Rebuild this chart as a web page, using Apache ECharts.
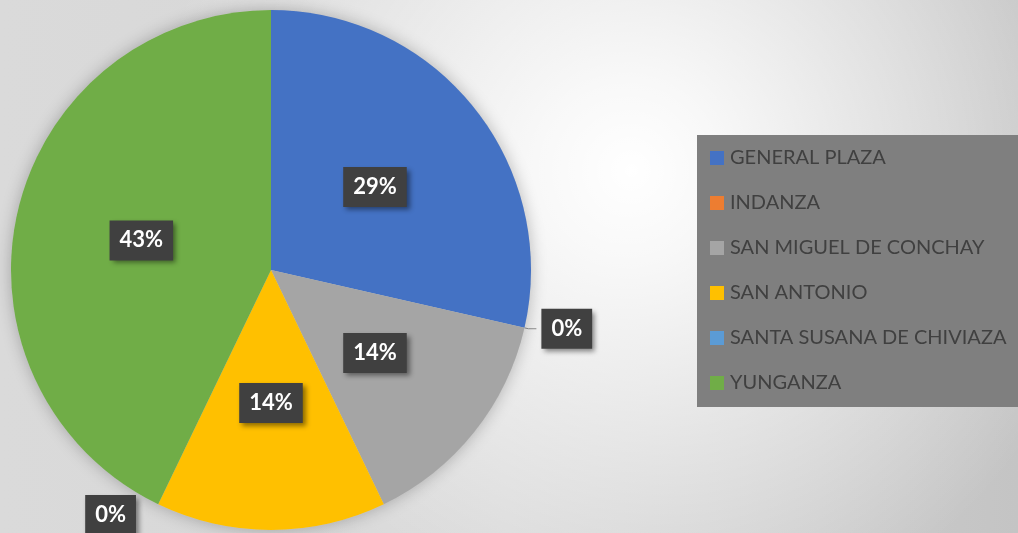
<!DOCTYPE html>
<html>
<head>
<meta charset="utf-8">
<script src="https://cdn.jsdelivr.net/npm/echarts@6/dist/echarts.min.js"></script>
<style>
  html, body { margin: 0; padding: 0; }
  #chart {
    width: 1018px;
    height: 533px;
    background:
      radial-gradient(circle at 62% 32%, rgba(255,255,255,1) 0px, rgba(255,255,255,0.85) 90px, rgba(255,255,255,0) 480px),
      linear-gradient(90deg, #dadada 0%, #d6d6d6 50%, #c4c4c4 100%);
  }
</style>
</head>
<body>
<div id="chart"></div>
<script>
// parishes and number of cases
const parishes = ['GENERAL PLAZA', 'INDANZA', 'SAN MIGUEL DE CONCHAY', 'SAN ANTONIO', 'SANTA SUSANA DE CHIVIAZA', 'YUNGANZA']
const counts = [2, 0, 1, 1, 0, 3]
const colors = ['#4472c4', '#ed7d31', '#a5a5a5', '#ffc000', '#5b9bd5', '#70ad47']

const labelBox = {
  color: '#fff',
  fontFamily: 'Lato',
  fontWeight: 'bold',
  fontSize: 22,
  lineHeight: 22,
  backgroundColor: '#404040',
  padding: [9, 10, 9, 10],
  shadowColor: 'rgba(0,0,0,0.45)',
  shadowBlur: 5,
  shadowOffsetX: 3,
  shadowOffsetY: 3
}

// zero slices get an outside label, the rest sit inside
const outsideLine = {
  1: { length: 4, length2: 8, show: true },
  4: { length: 12, length2: 12, show: false }
}

const pieData = parishes.map((name, i) => {
  const item = { name: name, value: counts[i], itemStyle: { color: colors[i] } }
  if (outsideLine[i]) {
    item.label = { position: 'outside' }
    item.labelLine = {
      show: outsideLine[i].show,
      length: outsideLine[i].length,
      length2: outsideLine[i].length2,
      lineStyle: { color: '#8c8c8c', width: 1 }
    }
  }
  return item
})

const chart = echarts.init(document.getElementById('chart'))
chart.setOption({
  animation: false,
  backgroundColor: 'transparent',
  color: colors,
  legend: {
    orient: 'vertical',
    left: 697,
    top: 135,
    backgroundColor: '#7f7f7f',
    padding: [13, 30, 14, 13],
    itemGap: 25,
    itemWidth: 14,
    itemHeight: 14,
    icon: 'rect',
    selectedMode: false,
    data: parishes,
    textStyle: { color: '#404040', fontFamily: 'Lato', fontSize: 20, lineHeight: 20, padding: [0, 0, 0, 1] }
  },
  series: [
    {
      // shadow halo behind the pie
      type: 'pie',
      silent: true,
      center: [271, 270],
      radius: 260,
      label: { show: false },
      data: [{ value: 1, itemStyle: { color: '#c8c8c8', shadowBlur: 16, shadowColor: 'rgba(0,0,0,0.25)' } }]
    },
    {
      type: 'pie',
      center: [271, 270],
      radius: 260,
      startAngle: 90,
      avoidLabelOverlap: false,
      label: Object.assign({
        show: true,
        position: 'inside',
        formatter: p => Math.round(p.percent) + '%'
      }, labelBox),
      itemStyle: { borderWidth: 0 },
      data: pieData
    }
  ]
})
</script>
</body>
</html>
